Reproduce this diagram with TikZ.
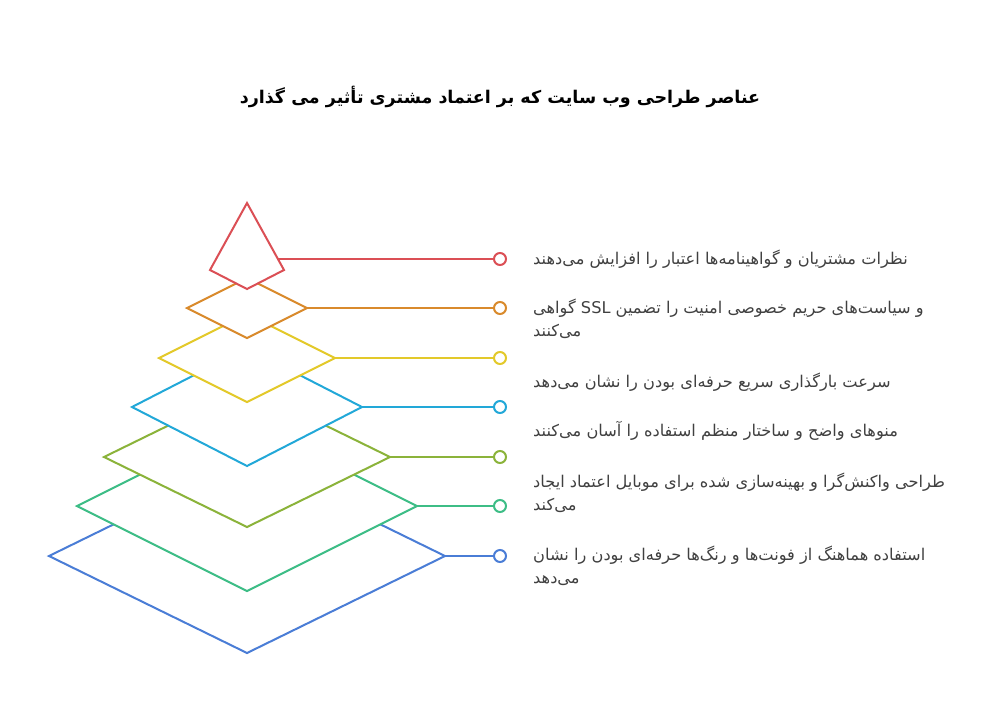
\documentclass[tikz,border=0pt]{standalone}
\usepackage{fontspec}
\newfontfamily\arabicfont[Script=Arabic]{DejaVu Sans}
\TeXXeTstate=1
\usetikzlibrary{positioning}

\definecolor{lred}{HTML}{DB4F55}
\definecolor{lorange}{HTML}{D98A2C}
\definecolor{lyellow}{HTML}{E3C92A}
\definecolor{lcyan}{HTML}{22A8D8}
\definecolor{lolive}{HTML}{8BB33A}
\definecolor{lgreen}{HTML}{3DBD86}
\definecolor{lblue}{HTML}{4A7DD6}
\definecolor{txtgray}{HTML}{404040}

\tikzset{
  layer/.style={line width=2pt, line join=miter, fill=white, draw=#1},
  dot/.style={circle, draw=#1, line width=2pt, fill=white, minimum size=12pt, inner sep=0pt},
  lead/.style={line width=2pt, draw=#1},
  caption/.style={anchor=west, inner sep=0pt, align=left, text=txtgray, font=\arabicfont\fontsize{16.2}{23}\selectfont}
}

\begin{document}
\begin{tikzpicture}[x=1pt, y=-1pt]
	 \useasboundingbox (0,0) rectangle (1000,716);
	 % title
	 \node [font=\arabicfont\bfseries\fontsize{17.5}{20}\selectfont, text=black] (title) at (500,97) {\beginR عناصر طراحی وب سایت که بر اعتماد مشتری تأثیر می گذارد\endR};
	 % layers, bottom first
	 \draw [layer=lblue] (49,556) coordinate (l7) -- (247,459) -- (445,556) coordinate (r7) -- (247,653) -- cycle;
	 \draw [layer=lgreen] (77,506) coordinate (l6) -- (247,421) -- (417,506) coordinate (r6) -- (247,591) -- cycle;
	 \draw [layer=lolive] (104,457) coordinate (l5) -- (247,387) -- (390,457) coordinate (r5) -- (247,527) -- cycle;
	 \draw [layer=lcyan] (132,407) coordinate (l4) -- (247,348) -- (362,407) coordinate (r4) -- (247,466) -- cycle;
	 \draw [layer=lyellow] (159,358) coordinate (l3) -- (247,314) -- (335,358) coordinate (r3) -- (247,402) -- cycle;
	 \draw [layer=lorange] (187,308) coordinate (l2) -- (247,278) -- (307,308) coordinate (r2) -- (247,338) -- cycle;
	 \draw [layer=lred] (247,203) coordinate (top) -- (284,270) -- (247,289) -- (210,270) -- cycle;
	 \coordinate (r1) at (278,259);
	 % markers
	 \node [dot=lred] (c1) at (500,259) {};
	 \node [dot=lorange] (c2) at (500,308) {};
	 \node [dot=lyellow] (c3) at (500,358) {};
	 \node [dot=lcyan] (c4) at (500,407) {};
	 \node [dot=lolive] (c5) at (500,457) {};
	 \node [dot=lgreen] (c6) at (500,506) {};
	 \node [dot=lblue] (c7) at (500,556) {};
	 \draw [lead=lred] (r1) -- (c1);
	 \draw [lead=lorange] (r2) -- (c2);
	 \draw [lead=lyellow] (r3) -- (c3);
	 \draw [lead=lcyan] (r4) -- (c4);
	 \draw [lead=lolive] (r5) -- (c5);
	 \draw [lead=lgreen] (r6) -- (c6);
	 \draw [lead=lblue] (r7) -- (c7);
	 % captions
	 \node [caption] (t1) at (533,259) {\beginR نظرات مشتریان و گواهینامه‌ها اعتبار را افزایش می‌دهند\endR};
	 \node [caption] (t2) at (533,319) {\beginR و سیاست‌های حریم خصوصی امنیت را تضمین \beginL SSL\endL{} گواهی\endR\\\beginR می‌کنند\endR};
	 \node [caption] (t3) at (533,382) {\beginR سرعت بارگذاری سریع حرفه‌ای بودن را نشان می‌دهد\endR};
	 \node [caption] (t4) at (533,431) {\beginR منوهای واضح و ساختار منظم استفاده را آسان می‌کنند\endR};
	 \node [caption] (t5) at (533,493) {\beginR طراحی واکنش‌گرا و بهینه‌سازی شده برای موبایل اعتماد ایجاد\endR\\\beginR می‌کند\endR};
	 \node [caption] (t6) at (533,566) {\beginR استفاده هماهنگ از فونت‌ها و رنگ‌ها حرفه‌ای بودن را نشان\endR\\\beginR می‌دهد\endR};
\end{tikzpicture}
\end{document}
